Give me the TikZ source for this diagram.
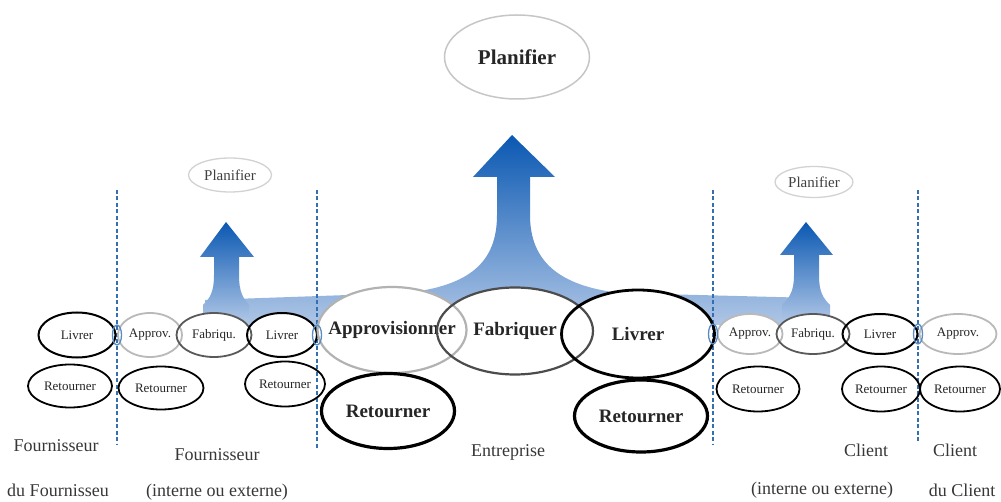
\documentclass[tikz,border=0pt]{standalone}
\usepackage{fontspec}
\setmainfont{Liberation Serif}
\usetikzlibrary{shapes.geometric}
\pgfdeclarelayer{arrowlayer}
\pgfdeclarelayer{fillbg}
\pgfsetlayers{arrowlayer,fillbg,main}
\definecolor{dblue}{RGB}{10,88,178}
\definecolor{lblue}{RGB}{175,198,230}
\definecolor{dashblue}{RGB}{52,112,176}
\definecolor{tinyblue}{RGB}{90,140,195}
\definecolor{labgray}{RGB}{55,55,55}
\newcommand{\mkell}[7]{%
  \begin{pgfonlayer}{fillbg}\fill[white] (#2,#3) ellipse ({#4/2} and {#5/2});\end{pgfonlayer}
  \node[ellipse, inner sep=0pt, minimum width=#4, minimum height=#5, #6] (#1) at (#2,#3) {\makebox[0pt]{#7}};}
\tikzset{
  sm/.style={font=\fontsize{13}{13}\selectfont, text=black!85},
  bg/.style={font=\fontsize{19}{19}\selectfont\bfseries, text=black!85},
  plan/.style={font=\fontsize{15}{15}\selectfont, text=black!75},
  lab/.style={font=\fontsize{18}{18}\selectfont, text=labgray},
  blk/.style={draw=black, line width=2pt},
  gry/.style={draw=gray!55, line width=1.8pt},
  dgr/.style={draw=black!65, line width=1.8pt},
  tiny/.style={draw=tinyblue, line width=1.3pt},
  sep/.style={draw=dashblue, line width=1.8pt, dash pattern=on 4pt off 2.5pt},
  shade arrow/.style={top color=dblue, bottom color=lblue, draw=none}
}
\begin{document}
\begin{tikzpicture}[x=1pt,y=-1pt]
\useasboundingbox (0,0) rectangle (1001,502);
% arrows
\begin{pgfonlayer}{arrowlayer}
\path[shade arrow] (205,300) -- (405,293)
  .. controls (470,286) and (497,262) .. (497,215) -- (497,177) -- (473,177)
  -- (512,135) -- (555,177) -- (530,177) -- (530,215)
  .. controls (530,262) and (560,286) .. (620,293) -- (815,298) -- (815,325) -- (205,325) -- cycle;
\path[shade arrow] (203,322) -- (203,305) .. controls (210,298) and (214,292) .. (214,275)
  -- (214,257) -- (200,257) -- (226,222) -- (254,257) -- (239,257) -- (239,275)
  .. controls (239,292) and (243,298) .. (249,305) -- (249,322) -- cycle;
\path[shade arrow] (782,322) -- (782,305) .. controls (789,298) and (794,292) .. (794,275)
  -- (794,255) -- (780,255) -- (806,222) -- (833,255) -- (819,255) -- (819,275)
  .. controls (819,292) and (823,298) .. (830,305) -- (830,322) -- cycle;
\end{pgfonlayer}
% separators
\coordinate (s1t) at (117,190); \coordinate (s1b) at (117,445);
\coordinate (s2t) at (317,190); \coordinate (s2b) at (317,448);
\coordinate (s3t) at (713,190); \coordinate (s3b) at (713,445);
\coordinate (s4t) at (918,190); \coordinate (s4b) at (918,443);
\draw[sep] (s1t) -- (s1b);
\draw[sep] (s2t) -- (s2b);
\draw[sep] (s3t) -- (s3b);
\draw[sep] (s4t) -- (s4b);
% planifier
\mkell{planTop}{517}{57}{145}{84}{draw=gray!45, line width=1.5pt, font=\fontsize{21}{21}\selectfont\bfseries, text=black!85}{Planifier}
\mkell{planL}{230}{175}{83}{34}{draw=gray!35, line width=1.3pt, plan}{Planifier}
\mkell{planR}{814}{182}{78}{31}{draw=gray!35, line width=1.3pt, plan}{Planifier}
% left supplier of supplier / supplier
\mkell{liv1}{77}{335}{77}{45}{blk, sm}{Livrer}
\mkell{app1}{150}{335}{64}{44}{gry, sm}{Approv.}
\mkell{fab1}{214}{335}{75}{44}{dgr, sm}{Fabriqu.}
\mkell{liv2}{282}{335}{70}{44}{blk, sm}{Livrer}
\mkell{ret1}{70}{386}{84}{43}{blk, line width=1.8pt, sm}{Retourner}
\mkell{ret2}{161}{388}{85}{43}{blk, line width=1.8pt, sm}{Retourner}
\mkell{ret3}{285}{384}{80}{45}{blk, line width=1.8pt, sm}{Retourner}
% enterprise
\mkell{appB}{392}{330}{149}{86}{draw=gray!60, line width=2.2pt, bg}{Approvisionner}
\mkell{fabB}{515}{331}{156}{87}{draw=black!70, line width=2.2pt, bg}{Fabriquer}
\mkell{livB}{638}{334}{153}{88}{draw=black, line width=2.8pt, bg}{Livrer}
\mkell{retBL}{388}{411}{133}{75}{draw=black, line width=3.2pt, bg}{Retourner}
\mkell{retBR}{641}{416}{133}{72}{draw=black, line width=3.2pt, bg}{Retourner}
% client / client of client
\mkell{app2}{750}{334}{65}{40}{gry, sm}{Approv.}
\mkell{fab2}{813}{334}{73}{40}{dgr, sm}{Fabriqu.}
\mkell{liv3}{880}{334}{75}{40}{blk, sm}{Livrer}
\mkell{app3}{958}{334}{77}{40}{gry, sm}{Approv.}
\mkell{ret4}{758}{389}{83}{45}{blk, line width=1.8pt, sm}{Retourner}
\mkell{ret5}{881}{389}{78}{45}{blk, line width=1.8pt, sm}{Retourner}
\mkell{ret6}{960}{389}{80}{45}{blk, line width=1.8pt, sm}{Retourner}
% tiny link ellipses
\mkell{t1}{117}{335}{9}{20}{tiny}{}
\mkell{t2}{317}{335}{9}{20}{tiny}{}
\mkell{t3}{713}{334}{9}{20}{tiny}{}
\mkell{t4}{918}{334}{9}{20}{tiny}{}
% labels
\node[lab] (l1a) at (56,446) {Fournisseur};
\node[lab] (l1b) at (58,490) {du Fournisseu};
\node[lab] (l2a) at (217,455) {Fournisseur};
\node[lab] (l2b) at (217,492) {(interne ou externe)};
\node[lab] (l3) at (508,452) {Entreprise};
\node[lab] (l4a) at (866,450) {Client};
\node[lab] (l4b) at (822,490) {(interne ou externe)};
\node[lab] (l5a) at (955,450) {Client};
\node[lab] (l5b) at (962,490) {du Client};
\end{tikzpicture}
\end{document}
